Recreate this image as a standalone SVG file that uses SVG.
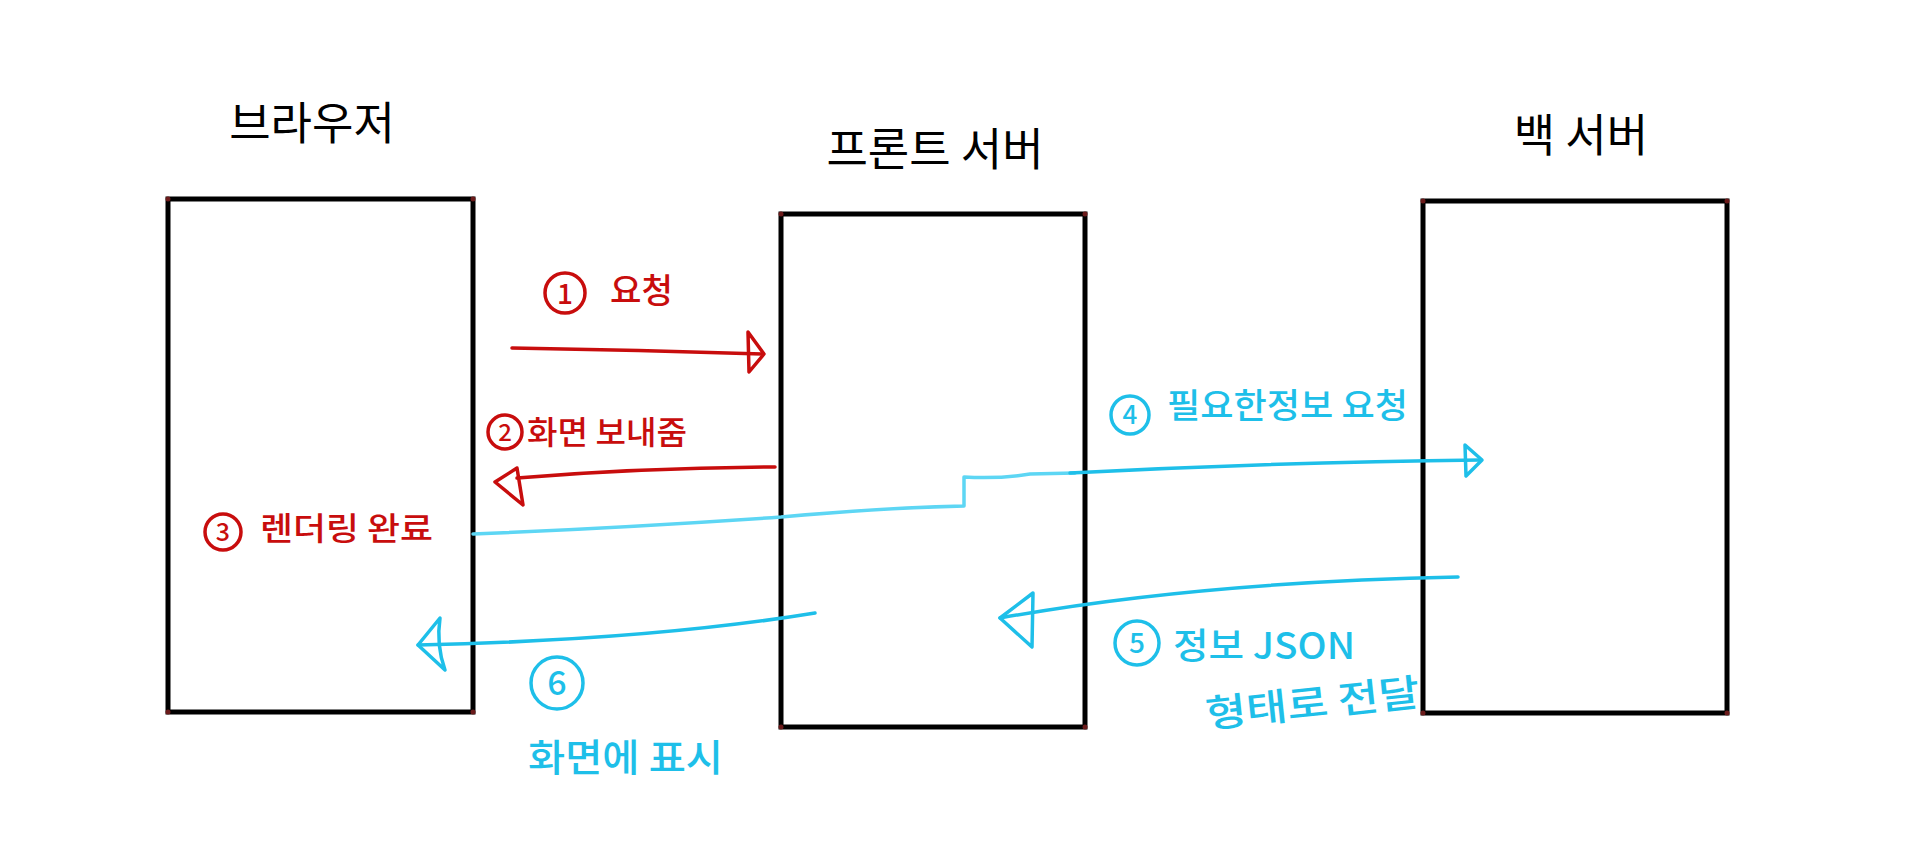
<svg xmlns="http://www.w3.org/2000/svg" width="1913" height="861" viewBox="0 0 1913 861">
<style>
.box{fill:none;stroke:#000;stroke-width:5}
.dot{fill:#6a1a1a}
.title{font-family:"Noto Sans CJK KR","Noto Sans",sans-serif;font-size:45px;fill:#000;text-anchor:middle}
.red{stroke:#c80d0d;fill:none;stroke-width:3.5;stroke-linecap:round;stroke-linejoin:round}
.cyan{stroke:#1ebfe9;fill:none;stroke-width:3.5;stroke-linecap:round;stroke-linejoin:round}
.lcyan{stroke:#5dd6f4;fill:none;stroke-width:3.5;stroke-linecap:round;stroke-linejoin:round}
.rt{font-family:"Noto Sans CJK KR","Noto Sans",sans-serif;fill:#c80d0d;font-weight:500}
.ct{font-family:"Noto Sans CJK KR","Noto Sans",sans-serif;fill:#1ebfe9;font-weight:500}
.num{text-anchor:middle}
</style>
<rect width="1913" height="861" fill="#fff"/>
<g id="browser">
<rect class="box" x="168" y="199" width="305" height="513"/>
<circle class="dot" cx="168" cy="199" r="2.5"/><circle class="dot" cx="473" cy="199" r="2.5"/><circle class="dot" cx="168" cy="712" r="2.5"/><circle class="dot" cx="473" cy="712" r="2.5"/>
<text class="title" x="312" y="140">브라우저</text>
</g>
<g id="front-server">
<rect class="box" x="781" y="214" width="304" height="513"/>
<circle class="dot" cx="781" cy="214" r="2.5"/><circle class="dot" cx="1085" cy="214" r="2.5"/><circle class="dot" cx="781" cy="727" r="2.5"/><circle class="dot" cx="1085" cy="727" r="2.5"/>
<text class="title" x="935" y="166">프론트 서버</text>
</g>
<g id="back-server">
<rect class="box" x="1423" y="201" width="304" height="512"/>
<circle class="dot" cx="1423" cy="201" r="2.5"/><circle class="dot" cx="1727" cy="201" r="2.5"/><circle class="dot" cx="1423" cy="713" r="2.5"/><circle class="dot" cx="1727" cy="713" r="2.5"/>
<text class="title" x="1581" y="152">백 서버</text>
</g>
<g id="connectors">
<!-- 1 request -->
<path class="red" d="M512 348 Q640 350 762 354"/>
<path class="red" d="M748 332 L764 354 L749 372 Z"/>
<!-- 2 send screen -->
<path class="red" d="M775 467 Q640 468 517 478"/>
<path class="red" d="M517 468 L495 482 L523 505 Z"/>
<!-- 3 -> 4 light -->
<path class="lcyan" d="M473 534 Q620 528 781 517 Q880 508 964 506 L964 477 Q1000 479 1030 474 L1075 473"/>
<!-- 4 request info -->
<path class="cyan" d="M1070 473 Q1280 462 1480 460"/>
<path class="cyan" d="M1465 445 L1482 460 L1466 476 Z"/>
<!-- 5 JSON -->
<path class="cyan" d="M1458 577 Q1200 582 1000 618"/>
<path class="cyan" d="M1033 593 L1000 618 L1032 647 Z"/>
<!-- 6 display -->
<path class="cyan" d="M815 613 Q650 640 418 645"/>
<path class="cyan" d="M440 618 L418 645 L445 670 Q436 645 440 618 Z"/>
</g>
<g id="label-1">
<circle class="red" cx="565" cy="293" r="20"/>
<text class="rt num" x="565" y="304" font-size="28">1</text>
<text class="rt" x="610" y="303" font-size="34" textLength="63" lengthAdjust="spacingAndGlyphs">요청</text>
</g>
<g id="label-2">
<circle class="red" cx="505" cy="432" r="17"/>
<text class="rt num" x="505" y="441" font-size="24">2</text>
<text class="rt" x="527" y="444" font-size="32" textLength="160" lengthAdjust="spacingAndGlyphs">화면 보내줌</text>
</g>
<g id="label-3">
<circle class="red" cx="223" cy="532" r="18"/>
<text class="rt num" x="223" y="541" font-size="25">3</text>
<text class="rt" x="260" y="540" font-size="32" textLength="173" lengthAdjust="spacingAndGlyphs">렌더링 완료</text>
</g>
<g id="label-4">
<circle class="cyan" cx="1130" cy="415" r="19"/>
<text class="ct num" x="1130" y="424" font-size="26">4</text>
<text class="ct" x="1167" y="418" font-size="34" textLength="241" lengthAdjust="spacingAndGlyphs">필요한정보 요청</text>
</g>
<g id="label-5">
<circle class="cyan" cx="1137" cy="643" r="22"/>
<text class="ct num" x="1137" y="653" font-size="28">5</text>
<text class="ct" x="1173" y="659" font-size="36" textLength="182" lengthAdjust="spacingAndGlyphs">정보 JSON</text>
<text class="ct" x="1207" y="728" font-size="38" textLength="215" lengthAdjust="spacingAndGlyphs" transform="rotate(-6 1207 728)">형태로 전달</text>
</g>
<g id="label-6">
<circle class="cyan" cx="557" cy="683" r="26"/>
<text class="ct num" x="557" y="695" font-size="34">6</text>
<text class="ct" x="528" y="771" font-size="38" textLength="195" lengthAdjust="spacingAndGlyphs">화면에 표시</text>
</g>
</svg>
